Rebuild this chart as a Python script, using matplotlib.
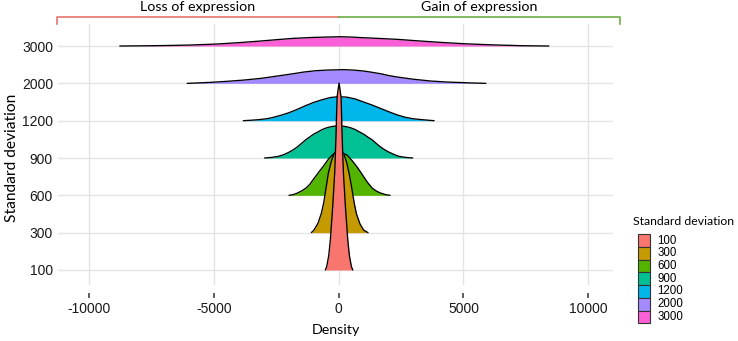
import matplotlib
matplotlib.use('Agg')
import matplotlib.pyplot as plt
from matplotlib.patches import Rectangle
from matplotlib.transforms import blended_transform_factory

# groups (bottom to top) and ggplot hue colours
groups = ['100', '300', '600', '900', '1200', '2000', '3000']
colors = ['#F8766D', '#C49A00', '#53B400', '#00C094', '#00B6EB', '#A58AFF', '#FB61D7']

# ridge outlines: x value, height in rows
x_100 = [-535, -480, -400, -335, -240, -160, -113, -65, 15, 95, 143, 190, 270, 365, 430, 510, 565]
h_100 = [0, 0.09, 0.38, 0.80, 1.69, 2.60, 3.48, 4.63, 5.01, 4.63, 3.48, 2.60, 1.69, 0.80, 0.38, 0.09, 0]

x_300 = [-1096, -990, -830, -694, -600, -520, -415, -300, -188, 0, 200, 320, 430, 540, 620, 710, 850, 1000, 1176]
h_300 = [0, 0.07, 0.25, 0.52, 0.80, 1.14, 1.59, 1.90, 2.12, 2.22, 2.12, 1.88, 1.55, 1.13, 0.80, 0.51, 0.24, 0.07, 0]

x_600 = [-1990, -1820, -1657, -1480, -1300, -1150, -990, -800, -590, -400, -190, 0, 170, 348,
         550, 749, 950, 1150, 1350, 1520, 1684, 1870, 2058]
h_600 = [0, 0.02, 0.06, 0.12, 0.20, 0.30, 0.45, 0.62, 0.80, 0.98, 1.12, 1.15, 1.13, 1.07,
         0.92, 0.75, 0.55, 0.35, 0.19, 0.11, 0.06, 0.02, 0]

x_900 = [-2967, -2700, -2406, -2200, -2005, -1820, -1650, -1490, -1335, -1170, -1000, -830, -670,
         -480, -300, -150, 0, 150, 300, 480, 670, 830, 1000, 1170, 1335, 1490, 1650, 1820, 2005,
         2200, 2406, 2700, 2967]
h_900 = [0, 0.015, 0.045, 0.09, 0.15, 0.22, 0.30, 0.39, 0.48, 0.56, 0.64, 0.70, 0.76,
         0.81, 0.84, 0.855, 0.86, 0.855, 0.84, 0.81, 0.76, 0.70, 0.64, 0.56, 0.49, 0.40, 0.31,
         0.23, 0.16, 0.10, 0.045, 0.015, 0]

x_1200 = [-3822, -3500, -3208, -2900, -2674, -2340, -2005, -1670, -1335, -1000, -670, -335, 0,
          335, 670, 1000, 1335, 1670, 2005, 2340, 2674, 3000, 3343, 3600, 3823]
h_1200 = [0, 0.012, 0.027, 0.05, 0.08, 0.14, 0.21, 0.30, 0.40, 0.49, 0.56, 0.62, 0.643,
          0.63, 0.58, 0.50, 0.42, 0.33, 0.24, 0.155, 0.09, 0.05, 0.027, 0.012, 0]

x_2000 = [-6070, -5600, -5130, -4450, -3800, -3100, -2460, -1900, -1400, -900, -450, 200, 600,
          1000, 1350, 1700, 2000, 2350, 3000, 3690, 4350, 5010, 5450, 5895]
h_2000 = [0, 0.012, 0.027, 0.055, 0.088, 0.135, 0.196, 0.25, 0.303, 0.34, 0.356, 0.367, 0.355,
          0.330, 0.295, 0.255, 0.21, 0.169, 0.11, 0.062, 0.035, 0.019, 0.008, 0]

x_3000 = [-8770, -7500, -6700, -5935, -4864, -4000, -3128, -2450, -1800, -1100, -453, 80, 500,
          1000, 1650, 2350, 3000, 3690, 4350, 5010, 5700, 6360, 7400, 8420]
h_3000 = [0, 0.008, 0.016, 0.027, 0.054, 0.09, 0.134, 0.172, 0.206, 0.228, 0.241, 0.249, 0.240,
          0.222, 0.202, 0.179, 0.147, 0.115, 0.087, 0.062, 0.043, 0.027, 0.008, 0]

ridge_x = [x_100, x_300, x_600, x_900, x_1200, x_2000, x_3000]
ridge_h = [h_100, h_300, h_600, h_900, h_1200, h_2000, h_3000]

x_ticks = [-10000, -5000, 0, 5000, 10000]

W, H = 738, 341
fig = plt.figure(figsize=(W / 100, H / 100), dpi=100)
ax = fig.add_axes([58 / W, 1 - 285 / H, (613 - 58) / W, (285 - 24) / H])

ax.set_xlim(-11245, 10990)
ax.set_ylim(-0.402, 6.59)

# grid
for xt in x_ticks:
    ax.axvline(xt, color='#E4E4E4', lw=1.0, zorder=0)
for i in range(len(groups)):
    ax.axhline(i, color='#E4E4E4', lw=1.0, zorder=0)

# ridges, top row first so lower rows overlap
for i in reversed(range(len(groups))):
    xs = ridge_x[i]
    ys = [i + h for h in ridge_h[i]]
    z = 10 + (len(groups) - i) * 2
    ax.fill_between(xs, i, ys, color=colors[i], lw=0, zorder=z)
    ax.plot(xs, ys, color='black', lw=0.95, zorder=z + 1, solid_capstyle='round',
            solid_joinstyle='round')

for s in ax.spines.values():
    s.set_visible(False)
ax.spines['bottom'].set_position(('outward', 5.5))

ax.set_xticks(x_ticks)
ax.set_xticklabels([str(v) for v in x_ticks])
ax.set_yticks(range(len(groups)))
ax.set_yticklabels(groups)
ax.tick_params(axis='x', length=3.3, width=1.1, color='#333333', pad=3.5,
               labelsize=10, labelcolor='#1a1a1a')
ax.tick_params(axis='y', length=0, pad=3.6, labelsize=10, labelcolor='#1a1a1a')
for lab in ax.get_xticklabels() + ax.get_yticklabels():
    lab.set_family('Liberation Sans')

ax.set_xlabel('Density', family='Lato', fontsize=10.3, labelpad=6)
fig.text(12 / W, 1 - 158 / H, 'Standard deviation', rotation=90, ha='center', va='center',
         family='Lato', fontsize=11.2)

# expression bracket above the panel
tr = blended_transform_factory(ax.transData, fig.transFigure)
y_top = 1 - 16.7 / H
y_end = 1 - 24 / H
ax.plot([-11280, -11280, 0], [y_end, y_top, y_top], color='#E8746E', lw=1.2,
        transform=tr, clip_on=False)
ax.plot([0, 11270, 11270], [y_top, y_top, y_end], color='#70AD47', lw=1.2,
        transform=tr, clip_on=False)
ax.text(-5640, 1 - 7.3 / H, 'Loss of expression', transform=tr, ha='center', va='center',
        family='Lato', fontsize=10.3)
ax.text(5635, 1 - 7.3 / H, 'Gain of expression', transform=tr, ha='center', va='center',
        family='Lato', fontsize=10.3)

# legend drawn by hand
fig.text(633 / W, 1 - 221.7 / H, 'Standard deviation', ha='left', va='center',
         family='Lato', fontsize=8.8)
key_h = 12.7
for i, g in enumerate(groups):
    top = 234.3 + key_h * i
    fig.patches.append(Rectangle((638 / W, 1 - (top + key_h) / H), 12 / W, key_h / H,
                                 transform=fig.transFigure, facecolor=colors[i],
                                 edgecolor='#333333', lw=0.8))
    fig.text(657.5 / W, 1 - (top + key_h / 2) / H, g, ha='left', va='center',
             family='Liberation Sans', fontsize=8.3)

fig.savefig('out.png', dpi=100)
